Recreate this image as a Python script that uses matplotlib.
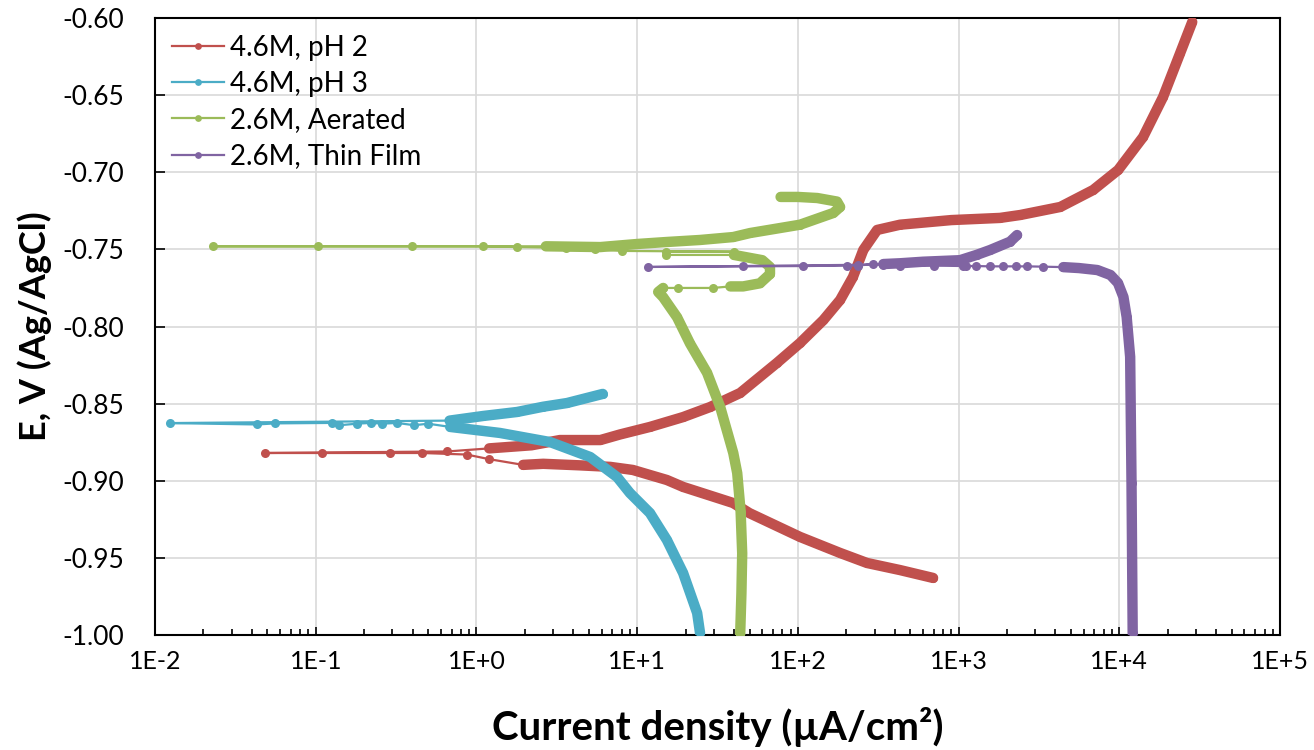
import math
import matplotlib.pyplot as plt
from matplotlib.ticker import FixedLocator, FuncFormatter, LogLocator, NullFormatter

plt.rcParams['font.family'] = ['Lato', 'DejaVu Sans']

# potential E (V vs Ag/AgCl) and current density (uA/cm2)

# 4.6M, pH 2 : cathodic end -> corrosion potential -> anodic end
red_e = [-0.963, -0.9579, -0.9533, -0.9468, -0.9364, -0.921, -0.9144, -0.904, -0.8995,
         -0.893, -0.891, -0.890, -0.889, -0.8897, -0.886, -0.883, -0.882, -0.882,
         -0.882, -0.882, -0.881, -0.879, -0.877, -0.8736, -0.8736, -0.870, -0.8651,
         -0.8587, -0.8522, -0.8431, -0.8236, -0.8107, -0.7958, -0.7828, -0.7679,
         -0.7504, -0.7374, -0.734, -0.731, -0.7296, -0.7277, -0.7225, -0.7115,
         -0.6985, -0.6771, -0.6512, -0.6227, -0.6026]
red_i = [693, 432, 269, 183, 103, 50, 39.5, 19.3, 15.3,
         9.4, 6.8, 4.4, 2.6, 1.95, 1.2, 0.87, 0.46, 0.29,
         0.109, 0.048, 0.66, 1.2, 2.2, 3.3, 5.9, 7.8, 12.0,
         19.3, 28.4, 43.7, 74, 103, 144, 183, 220,
         255, 311, 432, 900, 1810, 2420, 4290, 6870,
         9830, 14060, 18700, 23900, 28400]

# 4.6M, pH 3
blue_e = [-0.9987, -0.9857, -0.9598, -0.9384, -0.9209, -0.9079, -0.8976, -0.8846,
          -0.8749, -0.8690, -0.8651, -0.863, -0.864, -0.8625, -0.863, -0.8625,
          -0.863, -0.864, -0.8625, -0.8628, -0.8635, -0.8626, -0.861, -0.858,
          -0.8554, -0.852, -0.8496, -0.8437]
blue_i = [24.6, 23.6, 19.3, 15.3, 12.0, 9.0, 7.5, 5.1,
          2.87, 1.40, 0.686, 0.50, 0.41, 0.32, 0.26, 0.22,
          0.18, 0.14, 0.126, 0.056, 0.043, 0.0124, 0.68, 1.1,
          1.79, 2.6, 3.66, 6.1]

# 2.6M, Aerated
green_e = [-1.000, -0.973, -0.947, -0.92, -0.895, -0.882, -0.852, -0.830, -0.811,
           -0.794, -0.781, -0.7776, -0.775, -0.775, -0.775, -0.774, -0.774, -0.772,
           -0.766, -0.7614, -0.757, -0.7536, -0.7536, -0.7515, -0.7515, -0.751,
           -0.750, -0.749, -0.7485, -0.748, -0.748, -0.748, -0.748, -0.748,
           -0.7485, -0.7465, -0.7452, -0.7439, -0.742, -0.7394, -0.734, -0.7264,
           -0.7225, -0.719, -0.7167, -0.716, -0.716]
green_i = [43.7, 44.5, 45, 44, 41.9, 39.6, 32.8, 27.2, 21.3,
           17.7, 14.5, 13.5, 14.5, 18, 29.6, 38, 45.6, 58,
           67, 67, 60, 40, 15, 15, 40, 8,
           5.5, 3.6, 1.79, 1.10, 0.397, 0.103, 0.0229, 2.7,
           5.9, 10, 15.3, 24.6, 39.6, 50.4, 103, 166,
           183, 175, 132, 100, 78]

# 2.6M, Thin Film
purple_e = [-0.9987, -0.9014, -0.8197, -0.7938, -0.7809, -0.7718, -0.7666, -0.7634,
            -0.7621, -0.7615, -0.7612, -0.761, -0.761, -0.761, -0.761, -0.7608,
            -0.7608, -0.7608, -0.7605, -0.7605, -0.760, -0.7595, -0.7605, -0.7605,
            -0.7608, -0.761, -0.7614, -0.760, -0.7595, -0.759, -0.758, -0.757,
            -0.7535, -0.7504, -0.745, -0.7407]
purple_i = [12100, 11900, 11670, 11100, 10600, 9800, 8800, 7300,
            5600, 4480, 3340, 2660, 2260, 1900, 1570, 1280,
            1110, 1070, 700, 432, 340, 294, 237, 202,
            108, 45.6, 11.7, 237, 340, 432, 600, 1020,
            1300, 1570, 2090, 2310]

labels = ['4.6M, pH 2', '4.6M, pH 3', '2.6M, Aerated', '2.6M, Thin Film']
colors = ['#C0504D', '#4BACC6', '#9BBB59', '#8064A2']
x_decades = [1e-2, 1e-1, 1e0, 1e1, 1e2, 1e3, 1e4, 1e5]
y_ticks = [-1.00, -0.95, -0.90, -0.85, -0.80, -0.75, -0.70, -0.65, -0.60]
# index ranges where the measured points are packed into a solid band
bands = [[(0, 14), (21, 48)],
         [(0, 11), (22, 28)],
         [(0, 13), (15, 22), (33, 47)],
         [(0, 10), (28, 36)]]

fig = plt.figure(figsize=(13.14, 7.5), dpi=100)
ax = fig.add_axes([0.118, 0.1533, 0.8562, 0.8227])

series = [(red_i, red_e), (blue_i, blue_e), (green_i, green_e), (purple_i, purple_e)]
for k, (xi, ye) in enumerate(series):
    ax.plot(xi, ye, color=colors[k], lw=1.6, marker='o', ms=6.5, mew=0,
            label=labels[k], zorder=3 + k)
    for a, b in bands[k]:
        ax.plot(xi[a:b], ye[a:b], color=colors[k], lw=7.5,
                solid_capstyle='round', solid_joinstyle='round', zorder=3 + k)

ax.set_xscale('log')
ax.set_xlim(1e-2, 1e5)
ax.set_ylim(-1.0, -0.6)

ax.xaxis.set_major_locator(FixedLocator(x_decades))
ax.xaxis.set_minor_locator(LogLocator(base=10, subs=range(2, 10), numticks=100))
ax.xaxis.set_minor_formatter(NullFormatter())
ax.xaxis.set_major_formatter(FuncFormatter(lambda v, p: '1E%+d' % round(math.log10(v))))
ax.yaxis.set_major_locator(FixedLocator(y_ticks))
ax.yaxis.set_major_formatter(FuncFormatter(lambda v, p: '%.2f' % v))

ax.grid(True, which='major', color='#d9d9d9', lw=1.2)
ax.set_axisbelow(True)
for s in ax.spines.values():
    s.set_linewidth(1.5)
    s.set_color('black')
ax.tick_params(axis='x', which='major', direction='in', length=6, width=1.2,
               labelsize=18, pad=11)
ax.tick_params(axis='x', which='minor', direction='in', length=4.5, width=1.2)
ax.tick_params(axis='y', which='major', direction='in', length=7, width=1.2,
               labelsize=19, pad=22)

ax.set_xlabel('Current density (µA/cm²)', fontsize=29, fontweight='bold', va='baseline')
ax.xaxis.set_label_coords(0.5, -0.170)
ax.set_ylabel('E, V (Ag/AgCl)', fontsize=26, fontweight='bold', va='center')
ax.yaxis.set_label_coords(-0.107, 0.5)

ax.legend(loc='upper left', frameon=False, fontsize=20, markerscale=0.75,
          handlelength=1.9, labelspacing=0.37, borderpad=0.2, borderaxespad=0.4,
          handletextpad=0.2)

fig.savefig('out.png', dpi=100)
